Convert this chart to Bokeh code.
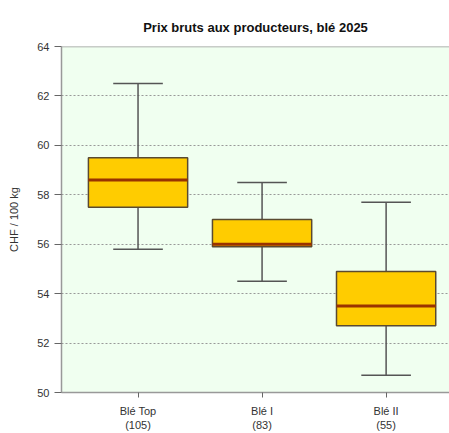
from bokeh.plotting import figure
from bokeh.models import Range1d, FixedTicker, Span, ColumnDataSource
from bokeh.embed import file_html
from bokeh.resources import INLINE

# ---- data ----
categories = ["Blé Top", "Blé I", "Blé II"]
counts = [105, 83, 55]
whisker_low = [55.8, 54.5, 50.7]
q1 = [57.5, 55.9, 52.7]
median = [58.6, 56.0, 53.5]
q3 = [59.5, 57.0, 54.9]
whisker_high = [62.5, 58.5, 57.7]
y_ticks = [50, 52, 54, 56, 58, 60, 62, 64]

FONT = "Liberation Sans"
pos = list(range(1, len(categories) + 1))
box_w = 0.8
cap_w = 0.4

src = ColumnDataSource(dict(
    x=pos, lo=whisker_low, q1=q1, med=median, q3=q3, hi=whisker_high,
    cl=[p - cap_w / 2 for p in pos], cr=[p + cap_w / 2 for p in pos],
    bl=[p - box_w / 2 for p in pos], br=[p + box_w / 2 for p in pos],
))

p = figure(width=449, height=433, output_backend="svg", toolbar_location=None,
           x_range=Range1d(0.383, 3.511), y_range=Range1d(y_ticks[0], y_ticks[-1]),
           min_border_left=61, min_border_right=0, min_border_top=46,
           min_border_bottom=41)

p.background_fill_color = "#F0FFF0"
p.border_fill_color = "white"
p.outline_line_color = None

p.title.text = "Prix bruts aux producteurs, blé 2025"
p.title.text_font = FONT
p.title.text_font_size = "13px"
p.title.text_font_style = "bold"
p.title.text_color = "#111111"
p.title.align = "center"
p.title.vertical_align = "top"
p.title.standoff = 20

# grid
p.xgrid.grid_line_color = None
p.ygrid.ticker = FixedTicker(ticks=y_ticks)
p.ygrid.grid_line_color = "#999999"
p.ygrid.grid_line_dash = "2 2"
p.ygrid.grid_line_width = 1

# y axis
ya = p.yaxis[0]
ya.ticker = FixedTicker(ticks=y_ticks)
ya.axis_label = "CHF / 100 kg"
ya.axis_label_text_font = FONT
ya.axis_label_text_font_size = "11px"
ya.axis_label_text_font_style = "normal"
ya.axis_label_text_color = "#333333"
ya.axis_label_standoff = 14
ya.major_label_text_font = FONT
ya.major_label_text_font_size = "11px"
ya.major_label_text_color = "#333333"
ya.major_label_standoff = 5
ya.axis_line_color = "#999999"
ya.axis_line_width = 1.5
ya.major_tick_line_color = "#666666"
ya.major_tick_out = 7
ya.major_tick_in = 0
ya.minor_tick_line_color = None

# x axis
xa = p.xaxis[0]
xa.ticker = FixedTicker(ticks=pos)
xa.major_label_overrides = {pp: f"{c}\n({n})" for pp, c, n in zip(pos, categories, counts)}
xa.major_label_text_font = FONT
xa.major_label_text_font_size = "11px"
xa.major_label_text_color = "#333333"
xa.major_label_standoff = 7
xa.axis_line_color = "#999999"
xa.axis_line_width = 1.5
xa.major_tick_line_color = "#666666"
xa.major_tick_out = 5
xa.major_tick_in = 0
xa.minor_tick_line_color = None

# top border of the frame
p.add_layout(Span(location=y_ticks[-1], dimension="width",
                  line_color="#999999", line_width=1.5))

# whiskers
wc = "#555555"
p.segment(x0="x", y0="lo", x1="x", y1="q1", source=src, line_color=wc, line_width=1.5)
p.segment(x0="x", y0="q3", x1="x", y1="hi", source=src, line_color=wc, line_width=1.5)
p.segment(x0="cl", y0="lo", x1="cr", y1="lo", source=src, line_color=wc, line_width=1.5)
p.segment(x0="cl", y0="hi", x1="cr", y1="hi", source=src, line_color=wc, line_width=1.5)

# boxes
p.vbar(x="x", bottom="q1", top="q3", width=box_w, source=src,
       fill_color="#FFCC00", line_color="#5a4a30", line_width=1.5)
# medians
p.segment(x0="bl", y0="med", x1="br", y1="med", source=src,
          line_color="#993300", line_width=3)

open("out.html", "w").write(file_html(p, INLINE))
